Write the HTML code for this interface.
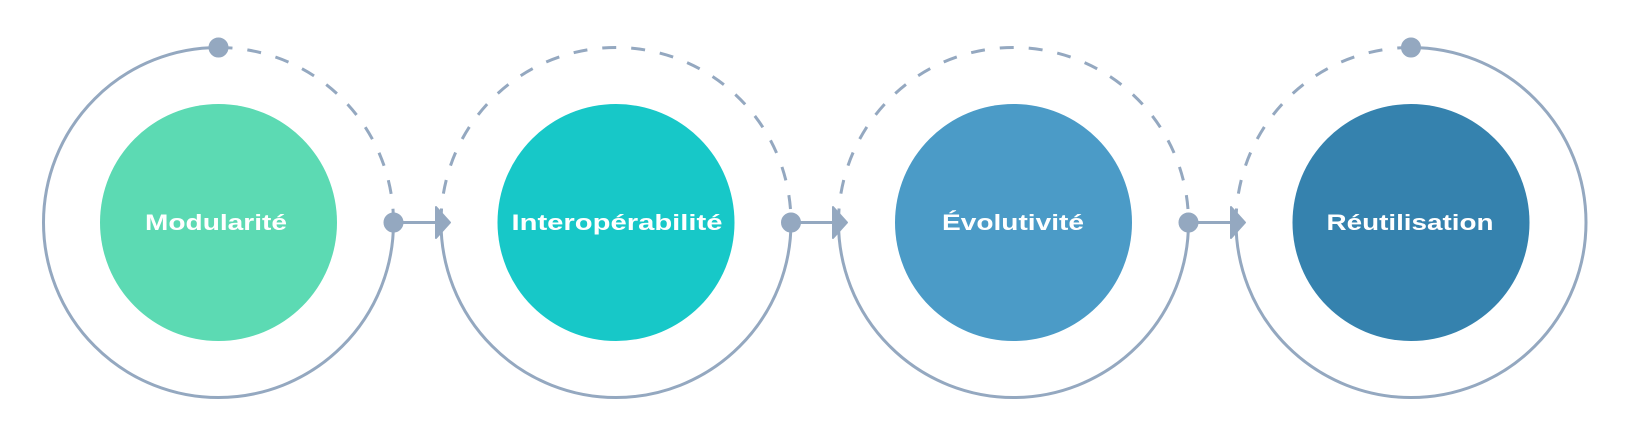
<!DOCTYPE html>
<html><head><meta charset="utf-8"><style>html,body{margin:0;padding:0;background:#fff;}</style></head>
<body>
<svg width="1633" height="439" viewBox="0 0 1633 439" xmlns="http://www.w3.org/2000/svg">
<g fill="none" stroke="#94a8c0" stroke-width="3">
  <path d="M218.5,47.5 A175,175 0 1,0 393.5,222.5"/>
  <path d="M218.5,47.5 A175,175 0 0,1 393.5,222.5" stroke-dasharray="14,15"/>
  <path d="M441,222.5 A175,175 0 0,1 791,222.5" stroke-dasharray="14,15"/>
  <path d="M441,222.5 A175,175 0 0,0 791,222.5"/>
  <path d="M838.5,222.5 A175,175 0 0,1 1188.5,222.5" stroke-dasharray="14,15"/>
  <path d="M838.5,222.5 A175,175 0 0,0 1188.5,222.5"/>
  <path d="M1236,222.5 A175,175 0 0,1 1411,47.5" stroke-dasharray="14,15"/>
  <path d="M1411,47.5 A175,175 0 1,1 1236,222.5"/>
  <line x1="393.5" y1="222.5" x2="438" y2="222.5"/>
  <line x1="791" y1="222.5" x2="835" y2="222.5"/>
  <line x1="1188.5" y1="222.5" x2="1233" y2="222.5"/>
</g>
<g fill="#94a8c0" stroke="#94a8c0" stroke-width="2" stroke-linejoin="round">
  <circle cx="218.5" cy="47.5" r="9" />
  <circle cx="393.5" cy="222.5" r="9"/>
  <circle cx="791" cy="222.5" r="9"/>
  <circle cx="1188.5" cy="222.5" r="9"/>
  <circle cx="1411" cy="47.5" r="9"/>
  <path d="M436,207 L450,222.5 L436,238 Z"/>
  <path d="M833,207 L847,222.5 L833,238 Z"/>
  <path d="M1231,207 L1245,222.5 L1231,238 Z"/>
</g>
<circle cx="218.5" cy="222.5" r="118.5" fill="#5cdab3"/>
<circle cx="616" cy="222.5" r="118.5" fill="#17c8c8"/>
<circle cx="1013.5" cy="222.5" r="118.5" fill="#4b9bc7"/>
<circle cx="1411" cy="222.5" r="118.5" fill="#3582ae"/>
<g fill="#fff" font-family="Liberation Sans, sans-serif" font-weight="bold" font-size="22" text-anchor="middle">
  <text x="216" y="230" textLength="142" lengthAdjust="spacingAndGlyphs">Modularité</text>
  <text x="617" y="230" textLength="211" lengthAdjust="spacingAndGlyphs">Interopérabilité</text>
  <text x="1013" y="230" textLength="142" lengthAdjust="spacingAndGlyphs">Évolutivité</text>
  <text x="1410" y="230" textLength="167" lengthAdjust="spacingAndGlyphs">Réutilisation</text>
</g>
</svg>
</body></html>
